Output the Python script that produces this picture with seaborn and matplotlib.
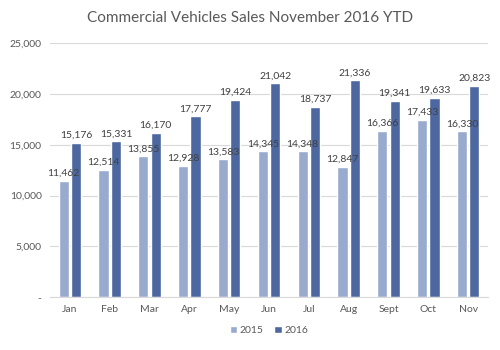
import pandas as pd
import seaborn as sns
import matplotlib.pyplot as plt
from matplotlib.ticker import FuncFormatter

# ---------- DATA ---------- #
months = ["Jan", "Feb", "Mar", "Apr", "May", "Jun", "Jul", "Aug", "Sept", "Oct", "Nov"]
sales_2015 = [11462, 12514, 13855, 12928, 13583, 14345, 14348, 12847, 16366, 17433, 16330]
sales_2016 = [15176, 15331, 16170, 17777, 19424, 21042, 18737, 21336, 19341, 19633, 20823]
# -------------------------- #

df = pd.DataFrame({
    "month": months * 2,
    "year": ["2015"] * len(months) + ["2016"] * len(months),
    "sales": sales_2015 + sales_2016,
})

sns.set_style("white")
plt.rcParams["font.family"] = ["Lato", "DejaVu Sans"]

fig = plt.figure(figsize=(5, 3.5), dpi=100)
ax = fig.add_axes([0.1, 0.151, 0.876, 0.726])

palette = {"2015": "#8FA8D8", "2016": "#3F63AE"}
sns.barplot(data=df, x="month", y="sales", hue="year", palette=palette,
            width=0.62, gap=0.18, ax=ax, legend=True)

for cont in ax.containers:
    ax.bar_label(cont, labels=[f"{v:,.0f}" for v in cont.datavalues],
                 fontsize=7.5, color="#404040", padding=2)

ax.set_ylim(0, 25000)
ax.set_yticks(range(0, 25001, 5000))
ax.yaxis.set_major_formatter(FuncFormatter(lambda v, p: "-" if v == 0 else f"{int(v):,}"))
ax.yaxis.grid(True, color="#D9D9D9", linewidth=0.8)
ax.set_axisbelow(True)
for s in ["top", "right", "left"]:
    ax.spines[s].set_visible(False)
ax.spines["bottom"].set_color("#D9D9D9")
ax.tick_params(axis="both", length=0, labelsize=7.5, colors="#595959", pad=6)
ax.set_xlabel("")
ax.set_ylabel("")

ax.legend(loc="upper center", bbox_to_anchor=(0.5, -0.075), ncol=2, frameon=False,
          fontsize=7.5, handlelength=0.7, handleheight=0.7, handletextpad=0.3,
          columnspacing=1.0, labelcolor="#595959")

fig.text(0.5, 0.95, "Commercial Vehicles Sales November 2016 YTD",
         ha="center", va="center", fontsize=11, color="#595959")

plt.savefig("out.png", dpi=100)
